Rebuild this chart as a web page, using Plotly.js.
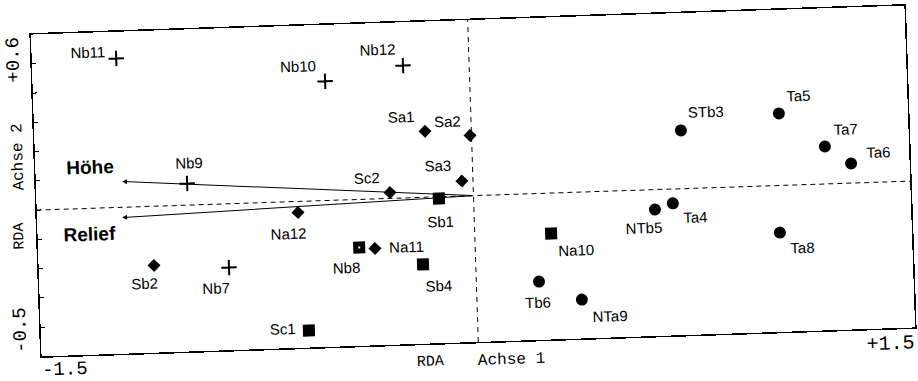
<!DOCTYPE html>
<html>
<head>
<meta charset="utf-8">
<script src="https://cdn.plot.ly/plotly-3.0.1.min.js"></script>
<style>
html,body{margin:0;padding:0;overflow:hidden;background:#fff;}
#chart{width:918px;height:381px;transform:rotate(-1.9deg);transform-origin:473px 181px;}
</style>
</head>
<body>
<div id="chart"></div>
<script>
// RDA site scores (Achse 1, Achse 2)
const crossNames = ['Nb11','Nb10','Nb12','Nb9','Nb7'];
const crossX = [-1.210,-0.496,-0.227,-0.981,-0.847];
const crossY = [0.509,0.407,0.452,0.074,-0.218];

const diamondNames = ['Sa1','Sa2','Sa3','Sc2','Na12','Na11','Sb2'];
const diamondX = [-0.159,-0.005,-0.038,-0.286,-0.604,-0.344,-1.104];
const diamondY = [0.225,0.206,0.051,0.020,-0.038,-0.169,-0.202];

const squareNames = ['Sb1','Nb8','Sb4','Sc1','Na10'];
const squareX = [-0.119,-0.398,-0.181,-0.580,0.262];
const squareY = [-0.006,-0.164,-0.229,-0.442,-0.138];

const circleNames = ['STb3','Ta5','Ta7','Ta6','NTb5','Ta4','Ta8','Tb6','NTa9'];
const circleX = [0.719,1.057,1.211,1.299,0.621,0.683,1.047,0.215,0.360];
const circleY = [0.199,0.246,0.128,0.067,-0.068,-0.049,-0.161,-0.301,-0.367];

// Environmental variables (arrows)
const envNames = ['Höhe','Relief'];
const envX = [-1.204,-1.208];
const envY = [0.088,-0.035];

const xRange = [-1.5,1.5];
const yRange = [-0.5,0.6];
const yTicks = [-0.4,-0.3,-0.2,-0.1,0,0.1,0.2,0.3,0.4,0.5];

// label placement (pixel offsets from marker: right, down)
const labelOffset = {
  Nb11:[-28,-7], Nb10:[-27,-16], Nb12:[-25,-17], Nb9:[3,-20], Nb7:[-13,20],
  Sa1:[-23,-15], Sa2:[-22,-15], Sa3:[-23,-16], Sc2:[-23,-15], Na12:[-10,21], Na11:[32,-1], Sb2:[-10,18],
  Sb1:[1,23], Nb8:[-13,20], Sb4:[15,22], Sc1:[-26,-3], Na10:[25,17],
  STb3:[26,-18], Ta5:[20,-17], Ta7:[21,-17], Ta6:[28,-11], NTb5:[-11,18], Ta4:[22,15], Ta8:[22,16], Tb6:[-2,21], NTa9:[28,17]
};
const envLabelPos = {'Höhe':[-1.312,0.139], 'Relief':[-1.320,-0.089]};

const labelFont = {family:'Liberation Sans, Arial, sans-serif', size:15, color:'#000'};
const monoFont = {family:'Liberation Mono, Courier New, monospace', color:'#000'};

const traces = [
  {type:'scatter', mode:'markers', x:crossX, y:crossY, hoverinfo:'text', text:crossNames,
   marker:{symbol:'cross-thin', size:11, color:'#000', line:{color:'#000', width:2}}},
  {type:'scatter', mode:'markers', x:diamondX, y:diamondY, hoverinfo:'text', text:diamondNames,
   marker:{symbol:'diamond', size:10, color:'#000', line:{width:0}}},
  {type:'scatter', mode:'markers', x:squareX, y:squareY, hoverinfo:'text', text:squareNames,
   marker:{symbol:'square', size:12, color:'#000', line:{width:0}}},
  {type:'scatter', mode:'markers', x:[squareX[1]], y:[squareY[1]], hoverinfo:'skip',
   marker:{symbol:'square', size:2, color:'#fff', line:{width:0}}},
  {type:'scatter', mode:'markers', x:circleX, y:circleY, hoverinfo:'text', text:circleNames,
   marker:{symbol:'circle', size:12, color:'#000', line:{width:0}}}
];

const annotations = [];
function addLabels(names, xs, ys){
  names.forEach((n,i)=>{
    const off = labelOffset[n] || [0,-15];
    annotations.push({x:xs[i], y:ys[i], xref:'x', yref:'y', text:n, showarrow:false,
      xanchor:'center', yanchor:'middle', xshift:off[0], yshift:-off[1], font:labelFont});
  });
}
addLabels(crossNames, crossX, crossY);
addLabels(diamondNames, diamondX, diamondY);
addLabels(squareNames, squareX, squareY);
addLabels(circleNames, circleX, circleY);

envNames.forEach((n,i)=>{
  annotations.push({x:envX[i], y:envY[i], ax:0, ay:0, xref:'x', yref:'y', axref:'x', ayref:'y',
    text:'', showarrow:true, arrowhead:2, arrowsize:1, arrowwidth:1, arrowcolor:'#000', standoff:0, startstandoff:0});
  annotations.push({x:envLabelPos[n][0], y:envLabelPos[n][1], xref:'x', yref:'y', text:'<b>'+n+'</b>',
    showarrow:false, xanchor:'center', yanchor:'middle', font:{family:'Liberation Sans, Arial, sans-serif', size:19, color:'#000'}});
});

// axis texts
function axText(x, y, text, size, angle){
  return {xref:'paper', yref:'paper', x:x, y:y, text:text, textangle:angle||0, showarrow:false,
    xanchor:'center', yanchor:'middle', borderpad:0, font:Object.assign({size:size}, monoFont)};
}
annotations.push(
  axText(-0.021, 0.923, '+0.6', 19, -90),
  axText(-0.023, 0.084, '-0.5', 19, -90),
  axText(-0.019, 0.621, 'Achse 2', 16, -90),
  axText(-0.020, 0.376, 'RDA', 15, -90),
  axText(0.445, -0.057, 'RDA', 15),
  axText(0.537, -0.059, 'Achse 1', 16),
  axText(0.026, -0.043, '-1.5', 19),
  axText(0.971, -0.049, '+1.5', 20)
);

const layout = {
  width:918, height:381,
  margin:{l:36, r:8, t:20, b:39},
  paper_bgcolor:'#fff', plot_bgcolor:'#fff',
  showlegend:false,
  xaxis:{range:xRange, showgrid:false, zeroline:false, showticklabels:false, ticks:'',
         showline:true, mirror:true, linecolor:'#000', linewidth:1.5, fixedrange:true},
  yaxis:{range:yRange, showgrid:false, zeroline:false, showticklabels:false,
         tickmode:'array', tickvals:yTicks, ticks:'inside', ticklen:4, tickwidth:1, tickcolor:'#000',
         showline:true, mirror:true, linecolor:'#000', linewidth:1.5, fixedrange:true},
  shapes:[
    {type:'line', xref:'paper', yref:'y', x0:0, x1:1, y0:0, y1:0, line:{color:'#000', width:1, dash:'5px,4px'}, layer:'below'},
    {type:'line', xref:'x', yref:'paper', x0:0, x1:0, y0:0, y1:1, line:{color:'#000', width:1, dash:'5px,5px'}, layer:'below'}
  ],
  annotations:annotations
};

Plotly.newPlot('chart', traces, layout, {displayModeBar:false, staticPlot:true});
</script>
</body>
</html>
